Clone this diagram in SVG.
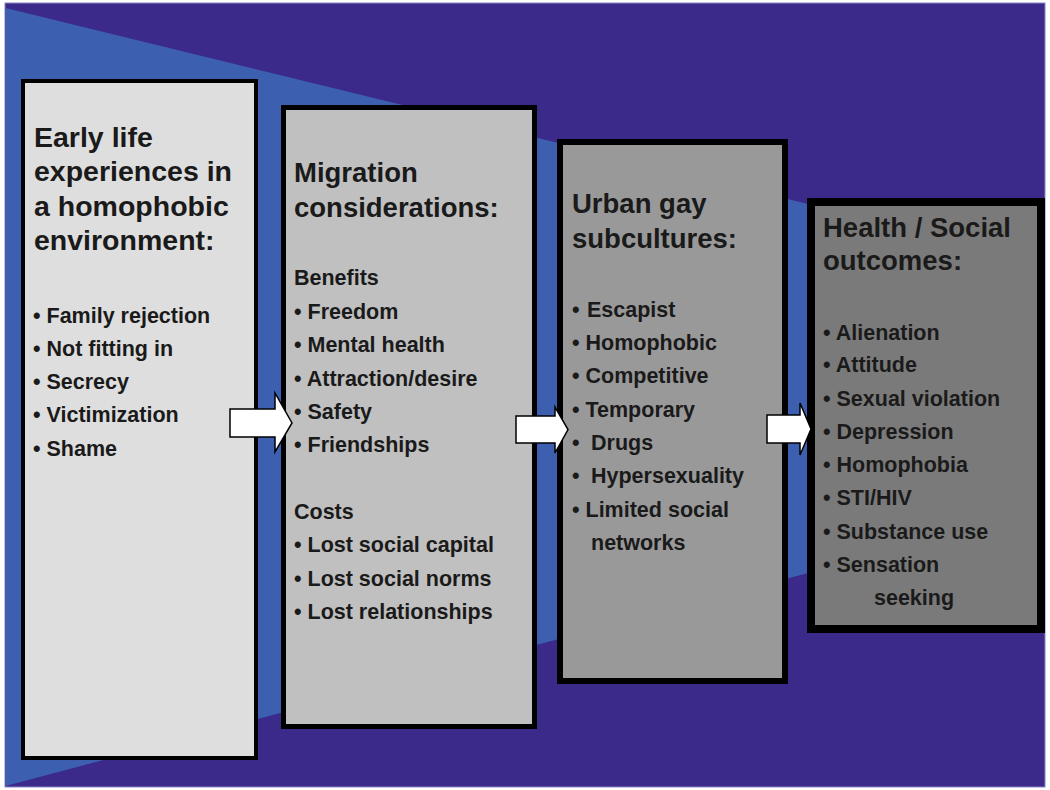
<svg xmlns="http://www.w3.org/2000/svg" width="1050" height="790" viewBox="0 0 1050 790">
<style>
.t{font-family:"Liberation Sans",Arial,Helvetica,sans-serif;font-weight:bold;fill:#1a1a1a}
.h{font-size:27.5px}
.h1{font-size:28.5px}
.b{font-size:21.5px}
.box{stroke:#000}
.arr{fill:#fff;stroke:#000;stroke-width:1.5;stroke-linejoin:miter}
</style>
<rect width="1050" height="790" fill="#fff"/>
<rect x="5" y="3" width="1040" height="784" fill="#3b2a8a" stroke="#8c84c6" stroke-width="1"/>
<polygon points="5.5,8 1045,262 1045,510 5.5,786" fill="#3d5fb0"/>

<g id="node-early">
<rect class="box" x="23" y="81" width="233" height="677" fill="#dedede" stroke-width="4"/>
<text class="t h1" x="34" y="147">Early life</text>
<text class="t h1" x="34" y="181">experiences in</text>
<text class="t h1" x="34" y="216">a homophobic</text>
<text class="t h1" x="34" y="250">environment:</text>
<text class="t b" x="33" y="323">• Family rejection</text>
<text class="t b" x="33" y="356">• Not fitting in</text>
<text class="t b" x="33" y="389">• Secrecy</text>
<text class="t b" x="33" y="422">• Victimization</text>
<text class="t b" x="33" y="456">• Shame</text>
</g>

<g id="node-migration">
<rect class="box" x="283.5" y="107.5" width="251" height="619" fill="#c0c0c0" stroke-width="5"/>
<text class="t h" x="294" y="182">Migration</text>
<text class="t h" x="294" y="217">considerations:</text>
<text class="t b" x="294" y="285">Benefits</text>
<text class="t b" x="294" y="319">• Freedom</text>
<text class="t b" x="294" y="352">• Mental health</text>
<text class="t b" x="294" y="386">• Attraction/desire</text>
<text class="t b" x="294" y="419">• Safety</text>
<text class="t b" x="294" y="452">• Friendships</text>
<text class="t b" x="294" y="519">Costs</text>
<text class="t b" x="294" y="552">• Lost social capital</text>
<text class="t b" x="294" y="586">• Lost social norms</text>
<text class="t b" x="294" y="619">• Lost relationships</text>
</g>

<g id="node-urban">
<rect class="box" x="560" y="142" width="225" height="539" fill="#999999" stroke-width="6"/>
<text class="t h" x="572" y="213">Urban gay</text>
<text class="t h" x="572" y="248">subcultures:</text>
<text class="t b" y="317"><tspan x="572">•</tspan><tspan x="587">Escapist</tspan></text>
<text class="t b" x="572" y="350">• Homophobic</text>
<text class="t b" x="572" y="383">• Competitive</text>
<text class="t b" x="572" y="417">• Temporary</text>
<text class="t b" y="450"><tspan x="572">•</tspan><tspan x="591">Drugs</tspan></text>
<text class="t b" y="483"><tspan x="572">•</tspan><tspan x="591">Hypersexuality</tspan></text>
<text class="t b" x="572" y="517">• Limited social</text>
<text class="t b" x="591" y="550">networks</text>
</g>

<g id="node-outcomes">
<rect class="box" x="811" y="202" width="230" height="427" fill="#7a7a7a" stroke-width="8"/>
<text class="t h" x="823" y="237">Health / Social</text>
<text class="t h" x="823" y="270">outcomes:</text>
<text class="t b" x="823" y="340">• Alienation</text>
<text class="t b" x="823" y="372">• Attitude</text>
<text class="t b" x="823" y="406">• Sexual violation</text>
<text class="t b" x="823" y="439">• Depression</text>
<text class="t b" x="823" y="472">• Homophobia</text>
<text class="t b" x="823" y="505">• STI/HIV</text>
<text class="t b" x="823" y="539">• Substance use</text>
<text class="t b" x="823" y="572">• Sensation</text>
<text class="t b" x="874" y="605">seeking</text>
</g>

<g id="connectors">
<polygon class="arr" points="230,409 275,409 275,393 292,423 275,452 275,437 230,437"/>
<polygon class="arr" points="516,416 555,416 555,407 568,429.5 555,453 555,443 516,443"/>
<polygon class="arr" points="767,415 800,415 800,403 811,429 800,455 800,443 767,443"/>
</g>
</svg>
